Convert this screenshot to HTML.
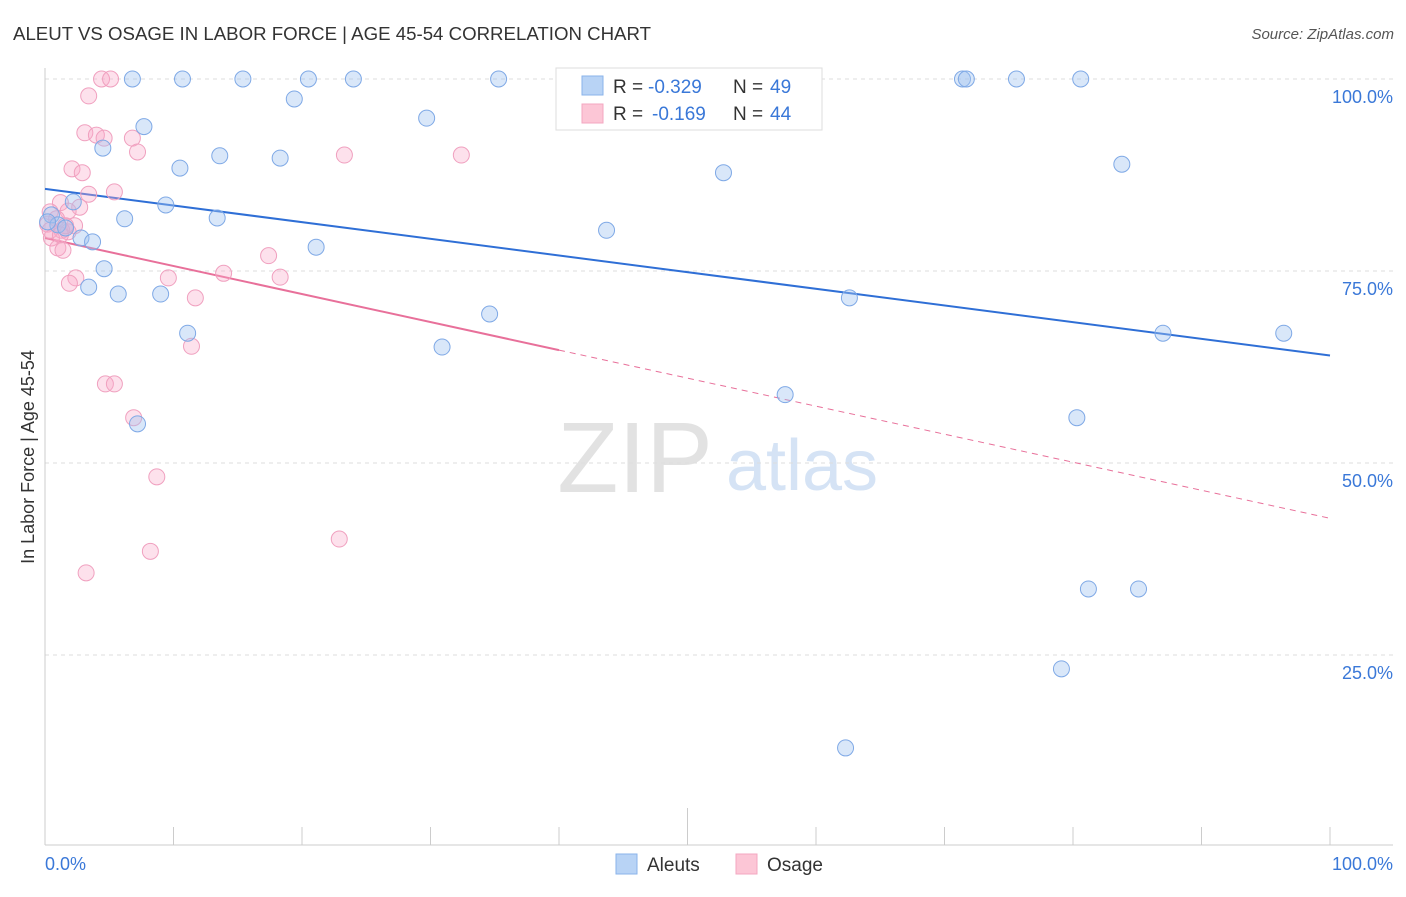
<!DOCTYPE html>
<html><head><meta charset="utf-8"><style>
body{margin:0;background:#fff;font-family:"Liberation Sans",sans-serif;}
svg text{font-family:"Liberation Sans",sans-serif;}
</style></head><body>
<svg id="chart" width="1406" height="892">
<text x="13" y="40" font-size="18" fill="#333" textLength="638" lengthAdjust="spacingAndGlyphs">ALEUT VS OSAGE IN LABOR FORCE | AGE 45-54 CORRELATION CHART</text>
<text x="1394" y="39" font-size="15" fill="#555" font-style="italic" text-anchor="end">Source: ZipAtlas.com</text>
<text x="0" y="0" transform="translate(34,457) rotate(-90)" font-size="18" fill="#333" text-anchor="middle">In Labor Force | Age 45-54</text>
<g>
<text x="635" y="492" font-size="100" fill="#e2e2e2" font-family="Liberation Serif" text-anchor="middle">ZIP</text>
<text x="802" y="490" font-size="72" fill="#d5e3f5" text-anchor="middle">atlas</text>
</g>
<g id="grid"></g><g id="axes"></g><g id="lines"></g><g id="pts"></g>
<g>
<rect x="556" y="68" width="266" height="62" fill="#fff" stroke="#ddd"/>
<rect x="582" y="76" width="21" height="19" fill="#b8d3f5" stroke="#8ab3ea"/>
<rect x="582" y="104" width="21" height="19" fill="#fcc6d6" stroke="#f3a7c0"/>
<text x="613" y="93" font-size="19" fill="#333">R =</text>
<text x="648" y="93" font-size="19" fill="#3a78d8">-0.329</text>
<text x="733" y="93" font-size="19" fill="#333">N =</text>
<text x="770" y="93" font-size="19" fill="#3a78d8">49</text>
<text x="613" y="120" font-size="19" fill="#333">R =</text>
<text x="652" y="120" font-size="19" fill="#3a78d8">-0.169</text>
<text x="733" y="120" font-size="19" fill="#333">N =</text>
<text x="770" y="120" font-size="19" fill="#3a78d8">44</text>
</g>
<g>
<rect x="616" y="854" width="21" height="20" fill="#b8d3f5" stroke="#8ab3ea"/>
<text x="647" y="871" font-size="19" fill="#333">Aleuts</text>
<rect x="736" y="854" width="21" height="20" fill="#fcc6d6" stroke="#f3a7c0"/>
<text x="767" y="871" font-size="19" fill="#333">Osage</text>
</g>
</svg>
<script>
const yTicks=[100,75,50,25];
const yTickLabels=["100.0%","75.0%","50.0%","25.0%"];
const xTickLabels=["0.0%","100.0%"];
const blueX=[6.8,10.7,15.4,20.5,24.0,35.3,55.6,71.4,71.7,75.6,80.6,19.4,7.7,29.7,4.5,10.5,13.6,18.3,52.8,83.8,2.2,9.4,6.2,13.4,0.5,1.0,43.7,2.8,3.7,21.1,4.6,3.4,5.7,9.0,62.6,34.6,11.1,87.0,96.4,30.9,57.6,7.2,80.3,81.2,85.1,79.1,62.3,0.2,1.6];
const blueY=[100,100,100,100,100,100,100,100,100,100,100,97.4,93.8,94.9,91.0,88.4,90.0,89.7,87.8,88.9,84.0,83.6,81.8,81.9,82.3,81.0,80.3,79.3,78.8,78.1,75.3,72.9,72.0,72.0,71.5,69.4,66.9,66.9,66.9,65.1,58.9,55.1,55.9,33.6,33.6,23.2,12.9,81.4,80.6];
const pinkX=[4.4,5.1,3.4,3.1,4.0,4.6,6.8,7.2,23.3,32.4,2.1,2.9,5.4,3.4,1.2,2.7,1.8,0.4,0.9,0.2,2.3,1.3,1.8,0.5,1.0,1.4,17.4,9.6,13.9,18.3,2.4,1.9,11.7,11.4,4.7,5.4,6.9,8.7,8.2,22.9,3.2,0.4,1.2,1.6];
const pinkY=[100,100,97.8,93.0,92.7,92.3,92.3,90.5,90.1,90.1,88.3,87.8,85.3,85.0,83.9,83.3,82.8,82.7,81.8,81.1,80.9,80.3,80.1,79.3,78.0,77.7,77.0,74.1,74.7,74.2,74.1,73.4,71.5,65.2,60.3,60.3,55.9,48.2,38.5,40.1,35.7,80.3,79.7,80.9];
const blueTrend=[85.7,64.0];
const pinkTrend=[79.3,42.8];
const pinkSolidEnd=40;
const NS="http://www.w3.org/2000/svg";
const X0=45,X1=1330,YB=847,YH=768;
const sx=v=>X0+v/100*(X1-X0), sy=v=>YB-v/100*YH;
function mk(tag,attrs,parent){const e=document.createElementNS(NS,tag);for(const k in attrs)e.setAttribute(k,attrs[k]);document.getElementById(parent).appendChild(e);return e;}
yTicks.forEach((t,i)=>{
 const g=mk('line',{x1:X0,x2:1393,y1:sy(t),y2:sy(t),stroke:'#ddd','stroke-dasharray':'4,4'},'grid');
 
 
 const tx=mk('text',{x:1393,y:sy(t)+24,'font-size':18,fill:'#3a78d8','text-anchor':'end'},'axes');
 tx.textContent=yTickLabels[i];
 
 
});
let a=mk('line',{x1:X0,x2:1393,y1:845,y2:845,stroke:'#ccc'},'axes');


a=mk('line',{x1:X0,x2:X0,y1:68,y2:845,stroke:'#ccc'},'axes');


for(let i=0;i<=10;i++){
 const x=sx(i*10);
 const t=mk('line',{x1:x,x2:x,y1:i==5?808:827,y2:845,stroke:'#ccc'},'axes');
 
 
}
xTickLabels.forEach((l,i)=>{
 const t=mk('text',{x:i?1393:45,y:870,'font-size':18,fill:'#3a78d8','text-anchor':i?'end':'start'},'axes');
 t.textContent=l;
 
 
});
function val(tr,x){return tr[0]+(tr[1]-tr[0])*x/100;}
let l=mk('line',{x1:sx(0),y1:sy(val(blueTrend,0)),x2:sx(100),y2:sy(val(blueTrend,100)),stroke:'#2f6fd6','stroke-width':2},'lines');


l=mk('line',{x1:sx(0),y1:sy(val(pinkTrend,0)),x2:sx(pinkSolidEnd),y2:sy(val(pinkTrend,pinkSolidEnd)),stroke:'#e8709a','stroke-width':2},'lines');


l=mk('line',{x1:sx(pinkSolidEnd),y1:sy(val(pinkTrend,pinkSolidEnd)),x2:sx(100),y2:sy(val(pinkTrend,100)),stroke:'#e8709a','stroke-width':1,'stroke-dasharray':'6,5'},'lines');


pinkX.forEach((x,i)=>{
 const c=mk('circle',{cx:sx(x),cy:sy(pinkY[i]),r:8,fill:'rgba(248,170,200,0.35)',stroke:'#f0a0bf','stroke-width':1},'pts');
 
 
});
blueX.forEach((x,i)=>{
 const c=mk('circle',{cx:sx(x),cy:sy(blueY[i]),r:8,fill:'rgba(160,195,240,0.4)',stroke:'#7fa9e6','stroke-width':1},'pts');
 
 
});
</script>
</body></html>
